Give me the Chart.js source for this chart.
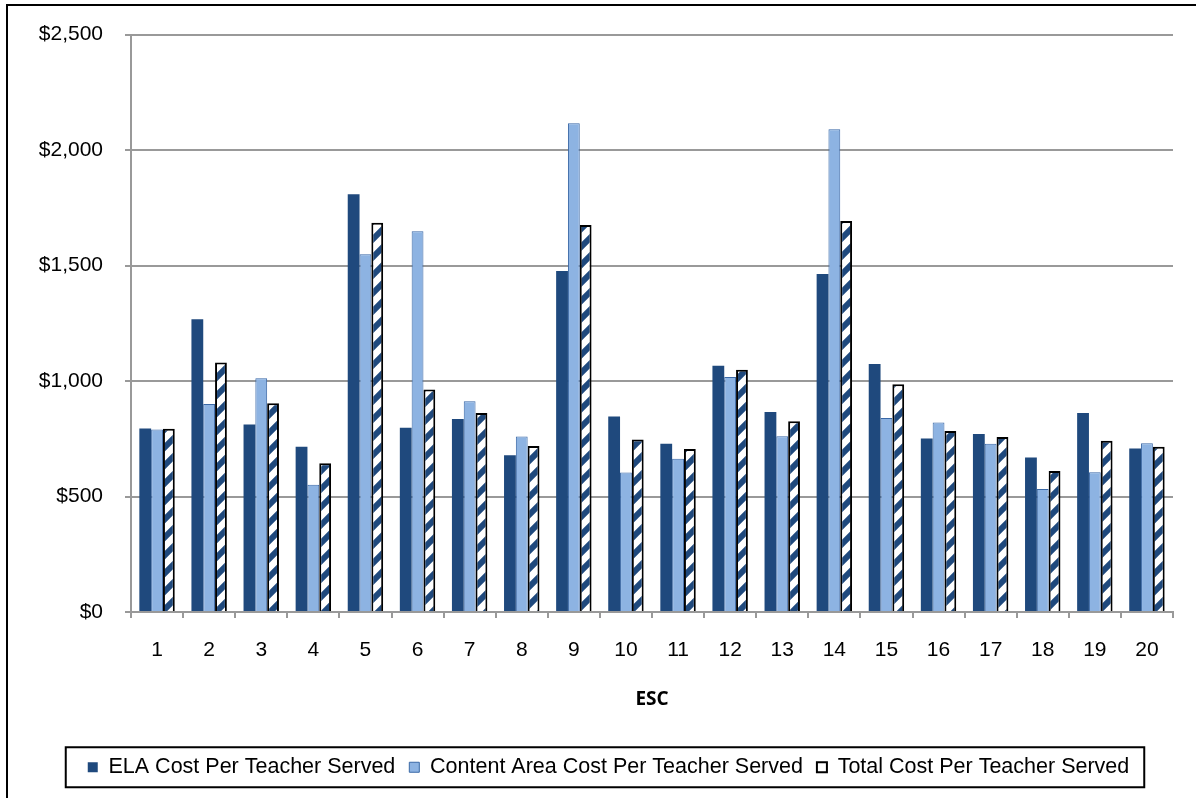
<!DOCTYPE html>
<html>
<head>
<meta charset="utf-8">
<title>Cost Per Teacher Served by ESC</title>
<script src="https://cdn.jsdelivr.net/npm/chart.js@4.4.1/dist/chart.umd.min.js"></script>
<style>
  html, body { margin: 0; padding: 0; background: #fff; }
  #wrap { width: 1196px; height: 798px; }
</style>
</head>
<body>
<div id="wrap"><canvas id="myChart" width="1196" height="798"></canvas></div>
<script>
'use strict';

// values, one entry per ESC region
var escLabels = ['1', '2', '3', '4', '5', '6', '7', '8', '9', '10',
                 '11', '12', '13', '14', '15', '16', '17', '18', '19', '20'];
var elaCost = [795, 1268, 812, 716, 1809, 798, 836, 679, 1476, 847,
               728, 1066, 866, 1463, 1074, 751, 771, 669, 862, 708];
var contentCost = [790, 901, 1012, 551, 1549, 1649, 912, 760, 2116, 604,
                   663, 1018, 761, 2090, 840, 820, 729, 533, 605, 731];
var totalCost = [793, 1080, 904, 644, 1685, 963, 862, 719, 1676, 747,
                 706, 1049, 826, 1693, 986, 784, 758, 610, 742, 716];
var seriesNames = ['ELA Cost Per Teacher Served',
                   'Content Area Cost Per Teacher Served',
                   'Total Cost Per Teacher Served'];
var yMax = 2500;
var yStep = 500;

var navy = '#1F497D';
var lightBlue = '#8DB3E2';
var gridGrey = '#999999';

Chart.defaults.font.family = '"Liberation Sans", Arial, sans-serif';
Chart.defaults.font.size = 21;
Chart.defaults.color = '#000';

// wide upward diagonal fill for the total bars
function makeStripes() {
    var tile = document.createElement('canvas');
    tile.width = 18;
    tile.height = 18;
    var g = tile.getContext('2d');
    g.fillStyle = '#fff';
    g.fillRect(0, 0, 18, 18);
    g.strokeStyle = navy;
    g.lineWidth = 6;
    g.beginPath();
    g.moveTo(-4, 22); g.lineTo(22, -4);
    g.moveTo(-4, 4); g.lineTo(4, -4);
    g.moveTo(14, 22); g.lineTo(22, 14);
    g.stroke();
    return g.createPattern(tile, 'repeat');
}

// black frame (top and left edges show) + box round the legend
var framePlugin = {
    id: 'frame',
    afterLayout: function (chart) {
        // the legend in the original sits a little right of centre
        chart.legend.left += 22;
        chart.legend.right += 22;
    },
    beforeDraw: function (chart) {
        var c = chart.ctx;
        c.save();
        c.fillStyle = '#fff';
        c.fillRect(0, 0, chart.width, chart.height);
        c.strokeStyle = '#000';
        c.lineWidth = 2;
        c.beginPath();
        c.moveTo(7, chart.height);
        c.lineTo(7, 5);
        c.lineTo(chart.width, 5);
        c.stroke();
        c.restore();
    },
    afterDraw: function (chart) {
        var boxes = chart.legend.legendHitBoxes;
        if (!boxes || !boxes.length) return;
        var first = boxes[0];
        var last = boxes[boxes.length - 1];
        var cy = first.top + first.height / 2;
        var c = chart.ctx;
        c.save();
        c.strokeStyle = '#000';
        c.lineWidth = 2;
        c.strokeRect(first.left - 22, cy - 20, last.left + last.width - first.left + 37, 40);
        c.restore();
    }
};

var ctx = document.getElementById('myChart').getContext('2d');
var chart = new Chart(ctx, {
    type: 'bar',
    data: {
        labels: escLabels,
        datasets: [{
            label: seriesNames[0],
            data: elaCost,
            backgroundColor: navy,
            borderColor: navy,
            borderWidth: 0
        }, {
            label: seriesNames[1],
            data: contentCost,
            backgroundColor: lightBlue,
            borderColor: '#3A68A6',
            borderWidth: 1
        }, {
            label: seriesNames[2],
            data: totalCost,
            backgroundColor: makeStripes(),
            borderColor: '#000',
            borderWidth: 2
        }]
    },
    options: {
        responsive: false,
        animation: false,
        devicePixelRatio: 1,
        categoryPercentage: 0.68,
        barPercentage: 1.0,
        layout: {
            padding: { top: 22, right: 23, bottom: 10, left: 0 }
        },
        scales: {
            x: {
                grid: {
                    drawOnChartArea: false,
                    drawTicks: true,
                    tickLength: 6,
                    color: gridGrey,
                    lineWidth: 2
                },
                border: { color: gridGrey, width: 2 },
                ticks: { padding: 20, font: { size: 21 } },
                title: {
                    display: true,
                    text: 'ESC',
                    font: { family: '"Open Sans", sans-serif', size: 19, weight: 'bold' },
                    padding: { top: 10, bottom: 32 }
                },
                afterFit: function (scale) {
                    var legendH = scale.chart.legend ? scale.chart.legend.height : 0;
                    scale.height = 798 - 10 - legendH - 612;
                }
            },
            y: {
                min: 0,
                max: yMax,
                grid: {
                    color: gridGrey,
                    lineWidth: 2,
                    tickLength: 6
                },
                border: { color: gridGrey, width: 2 },
                ticks: {
                    stepSize: yStep,
                    padding: 22,
                    font: { size: 21 },
                    callback: function (v) { return '$' + v.toLocaleString('en-US'); }
                },
                afterFit: function (scale) {
                    scale.width = 131;
                }
            }
        },
        plugins: {
            legend: {
                position: 'bottom',
                labels: {
                    boxWidth: 10,
                    boxHeight: 10,
                    padding: 14,
                    font: { size: 21.5 },
                    generateLabels: function (c) {
                        var items = Chart.defaults.plugins.legend.labels.generateLabels(c);
                        items[2].fillStyle = '#fff';
                        return items;
                    }
                }
            },
            tooltip: { enabled: false }
        }
    },
    plugins: [framePlugin]
});
</script>
</body>
</html>
